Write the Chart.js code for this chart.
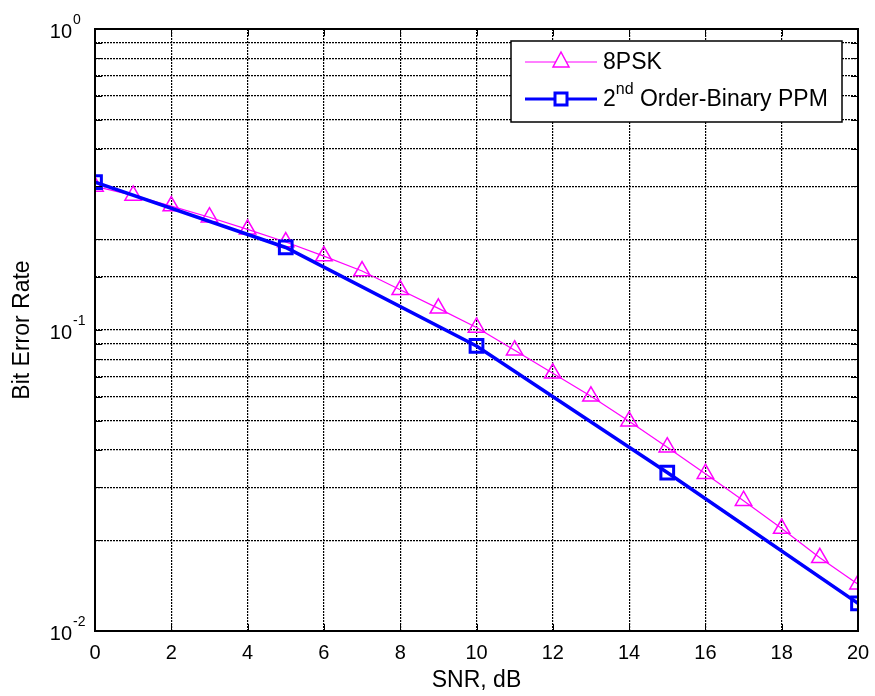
<!DOCTYPE html>
<html>
<head>
<meta charset="utf-8">
<script src="https://cdn.jsdelivr.net/npm/chart.js@4"></script>
<style>
  html, body { margin: 0; padding: 0; background: #fff; }
</style>
</head>
<body>
<canvas id="ber" width="875" height="696"></canvas>
<script>
// values
const snrPsk = [0,1,2,3,4,5,6,7,8,9,10,11,12,13,14,15,16,17,18,19,20];
const berPsk = [0.30,0.28,0.258,0.237,0.216,0.196,0.176,0.157,0.136,0.118,0.102,0.0857,0.0718,0.0602,0.0498,0.0408,0.0333,0.0271,0.0219,0.0175,0.0143];
const snrPpm = [0,5,10,15,20];
const berPpm = [0.31,0.188,0.0885,0.0336,0.01236];
const yDecades = [1, 0.1, 0.01];
const yDecadeExps = ['0', '-1', '-2'];
const seriesNames = ['8PSK', 'Order-Binary PPM'];

const FONT = '"Liberation Sans", Arial, sans-serif';

// MATLAB style extras: box, inward ticks, 10^n labels, legend
const matlabBits = {
  id: 'matlabBits',
  afterDraw(chart) {
    const ctx = chart.ctx;
    const a = chart.chartArea;
    const xs = chart.scales.x, ys = chart.scales.y;
    ctx.save();
    ctx.strokeStyle = '#000';
    ctx.lineWidth = 1;
    // inward tick marks
    ctx.beginPath();
    xs.ticks.forEach(t => {
      const px = Math.round(xs.getPixelForValue(t.value)) + 0.5;
      ctx.moveTo(px, a.bottom); ctx.lineTo(px, a.bottom - 7);
      ctx.moveTo(px, a.top); ctx.lineTo(px, a.top + 7);
    });
    ys.ticks.forEach(t => {
      const py = Math.round(ys.getPixelForValue(t.value)) + 0.5;
      ctx.moveTo(a.left, py); ctx.lineTo(a.left + 7, py);
      ctx.moveTo(a.right, py); ctx.lineTo(a.right - 7, py);
    });
    ctx.stroke();
    // box
    ctx.lineWidth = 2;
    ctx.strokeRect(a.left, a.top, a.right - a.left, a.bottom - a.top);

    // y labels 10^n
    ctx.fillStyle = '#000';
    yDecades.forEach((v, i) => {
      const py = ys.getPixelForValue(v);
      ctx.font = '20px ' + FONT;
      ctx.textAlign = 'right';
      ctx.textBaseline = 'middle';
      ctx.fillText('10', 72, py + 3);
      ctx.font = '14px ' + FONT;
      ctx.textAlign = 'left';
      ctx.fillText(yDecadeExps[i], 73, py - 9);
    });

    // legend
    const lx = 511, ly = 41, lw = 331, lh = 81;
    ctx.fillStyle = '#fff';
    ctx.fillRect(lx, ly, lw, lh);
    ctx.lineWidth = 1.5;
    ctx.strokeStyle = '#000';
    ctx.strokeRect(lx, ly, lw, lh);

    const rows = [62, 99];
    // 8PSK
    ctx.strokeStyle = '#ff00ff';
    ctx.lineWidth = 1;
    ctx.beginPath(); ctx.moveTo(525, rows[0]); ctx.lineTo(597, rows[0]); ctx.stroke();
    ctx.lineWidth = 1.5;
    ctx.beginPath();
    ctx.moveTo(561, rows[0] - 10); ctx.lineTo(569, rows[0] + 5); ctx.lineTo(553, rows[0] + 5); ctx.closePath();
    ctx.fillStyle = '#fff'; ctx.fill(); ctx.stroke();
    // PPM
    ctx.strokeStyle = '#0000ff';
    ctx.lineWidth = 3;
    ctx.beginPath(); ctx.moveTo(525, rows[1]); ctx.lineTo(597, rows[1]); ctx.stroke();
    ctx.fillStyle = '#fff';
    ctx.fillRect(555, rows[1] - 6, 12, 12);
    ctx.strokeRect(555, rows[1] - 6, 12, 12);

    ctx.fillStyle = '#000';
    ctx.textAlign = 'left';
    ctx.textBaseline = 'middle';
    ctx.font = '23px ' + FONT;
    ctx.fillText(seriesNames[0], 603, rows[0] + 1);
    ctx.fillText('2', 603, rows[1] + 1);
    let w = ctx.measureText('2').width;
    ctx.font = '16px ' + FONT;
    ctx.fillText('nd', 603 + w, rows[1] - 9);
    w += ctx.measureText('nd').width;
    ctx.font = '23px ' + FONT;
    ctx.fillText(' ' + seriesNames[1], 603 + w, rows[1] + 1);
    ctx.restore();
  }
};

const gridDots = { color: '#000', lineWidth: 1.2, drawTicks: false };

new Chart(document.getElementById('ber').getContext('2d'), {
  type: 'line',
  data: {
    datasets: [{
      label: seriesNames[0],
      data: snrPsk.map((x, i) => ({ x: x, y: berPsk[i] })),
      borderColor: '#ff00ff',
      borderWidth: 1.2,
      pointStyle: 'triangle',
      pointRadius: 9.5,
      pointBorderWidth: 1.5,
      pointBackgroundColor: 'rgba(0,0,0,0)',
      pointBorderColor: '#ff00ff',
      order: 1
    }, {
      label: '2nd ' + seriesNames[1],
      data: snrPpm.map((x, i) => ({ x: x, y: berPpm[i] })),
      borderColor: '#0000ff',
      borderWidth: 3.5,
      pointStyle: 'rect',
      pointRadius: 9,
      pointBorderWidth: 3,
      pointBackgroundColor: 'rgba(0,0,0,0)',
      pointBorderColor: '#0000ff',
      order: 0
    }]
  },
  options: {
    responsive: false,
    animation: false,
    layout: { padding: { top: 29, right: 17, left: 0, bottom: 0 } },
    plugins: { legend: { display: false }, tooltip: { enabled: false } },
    scales: {
      x: {
        type: 'linear', min: 0, max: 20,
        afterFit: s => { s.height = 65; s.paddingLeft = 0; s.paddingRight = 0; },
        ticks: { stepSize: 2, autoSkip: false, maxRotation: 0, color: '#000', padding: 10, font: { size: 20, family: FONT } },
        grid: gridDots,
        border: { display: false, dash: [2, 1] },
        title: { display: true, text: 'SNR, dB', color: '#000', font: { size: 23, family: FONT }, padding: { top: 0, bottom: 2 } }
      },
      y: {
        type: 'logarithmic', min: 0.01, max: 1,
        afterFit: s => { s.width = 95; },
        ticks: { autoSkip: false, display: false },
        grid: gridDots,
        border: { display: false, dash: [2, 1] },
        title: { display: true, text: 'Bit Error Rate', color: '#000', font: { size: 23, family: FONT }, padding: { top: 9, bottom: 0 } }
      }
    }
  },
  plugins: [matlabBits]
});
</script>
</body>
</html>
